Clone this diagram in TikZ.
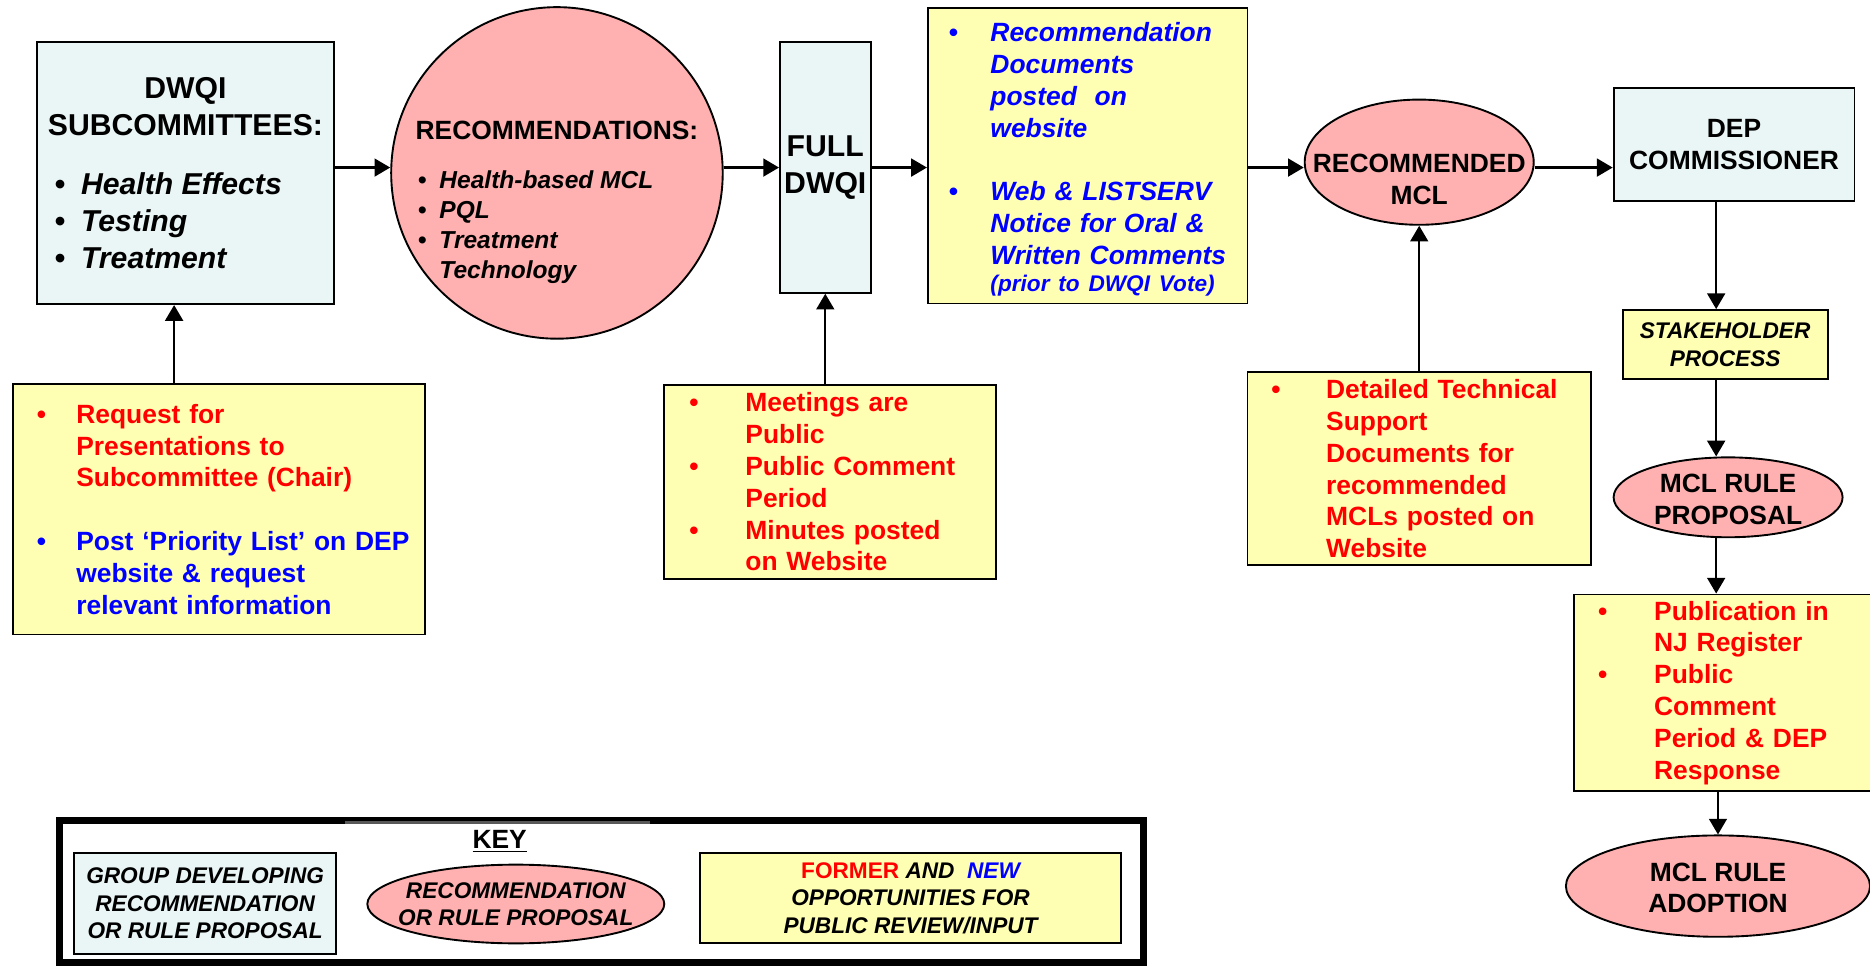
\documentclass[tikz,border=0pt]{standalone}
\usepackage{fontspec}
\setmainfont{Liberation Sans}
\usetikzlibrary{shapes.geometric, arrows, arrows.meta}
\definecolor{grpblue}{RGB}{234,245,246}
\definecolor{recpink}{RGB}{255,176,176}
\definecolor{inyellow}{RGB}{255,255,180}
\newcommand{\fsA}{\fontsize{14.4pt}{17.6pt}\selectfont}
\newcommand{\fsB}{\fontsize{12.6pt}{15.2pt}\selectfont}
\newcommand{\fsC}{\fontsize{11.7pt}{14.2pt}\selectfont}
\newcommand{\fsD}{\fontsize{10.8pt}{13.1pt}\selectfont}
\newcommand{\bul}[1]{\makebox[#1][l]{\textbullet}}
\newcommand{\ind}[1]{\hspace*{#1}}
\newcommand{\inell}[3]{\raisebox{#1}[0pt][0pt]{\makebox[0pt]{\begin{tabular}{@{}#2@{}}#3\end{tabular}}}}
\tikzstyle{groupbox} = [rectangle, draw=black, line width=0.9pt, fill=grpblue, inner sep=2pt]
\tikzstyle{recell} = [ellipse, draw=black, line width=0.9pt, fill=recpink, inner sep=0pt]
\tikzstyle{inputbox} = [rectangle, draw=black, line width=0.9pt, fill=inyellow, inner sep=2pt, align=left]
\tikzstyle{arrow} = [-{Triangle[length=7.5pt, width=8.5pt]}, line width=1.1pt]

\begin{document}
\begin{tikzpicture}[node distance=1cm]
\useasboundingbox (0,0) rectangle (31.36,-16.26);
% top row
\node[groupbox, minimum width=4.98cm, minimum height=4.40cm, align=left, font=\bfseries\fsA] (sub) at (3.11,-2.90)
  {\makebox[4.38cm]{DWQI}\\ \makebox[4.38cm]{SUBCOMMITTEES:}\\[0.38cm]
   \bul{0.44cm}\textit{Health Effects}\\ \bul{0.44cm}\textit{Testing}\\ \bul{0.44cm}\textit{Treatment}};
\node[recell, minimum width=5.56cm, minimum height=5.56cm, font=\bfseries\fsC, right of=sub, xshift=5.23cm] (rec)
  {\inell{-0.61cm}{l}{{\fsB RECOMMENDATIONS:}\\[0.32cm]
   \ind{0.04cm}\bul{0.36cm}\textit{Health-based MCL}\\ \ind{0.04cm}\bul{0.36cm}\textit{PQL}\\
   \ind{0.04cm}\bul{0.36cm}\textit{Treatment}\\ \ind{0.40cm}\textit{Technology}}};
\node[groupbox, minimum width=1.52cm, minimum height=4.20cm, inner xsep=1pt, align=center, font=\bfseries\fsA, right of=rec, xshift=3.50cm, yshift=0.09cm] (full) {FULL\\DWQI};
\node[inputbox, text width=4.66cm, minimum width=5.36cm, minimum height=4.96cm, text=blue, font=\bfseries\itshape\fsB, right of=full, xshift=3.40cm, yshift=0.20cm] (web)
  {\rule{0pt}{12.6pt}\bul{0.70cm}Recommendation\\ \ind{0.70cm}Documents\\ \ind{0.70cm}posted~~on\\ \ind{0.70cm}website\\[0.53cm]
   \bul{0.70cm}Web \& LISTSERV\\ \ind{0.70cm}Notice for Oral \&\\ \ind{0.70cm}\mbox{Written Comments}\\[-0.08cm] \ind{0.70cm}{\fsD (prior to DWQI Vote)}};
\node[recell, minimum width=3.84cm, minimum height=2.10cm, font=\bfseries\fsB, right of=web, xshift=4.56cm, yshift=-0.11cm] (mcl)
  {\inell{-0.44cm}{c}{RECOMMENDED\\MCL}};
\node[groupbox, minimum width=4.04cm, minimum height=1.90cm, align=center, font=\bfseries\fsB, right of=mcl, xshift=4.28cm, yshift=0.30cm] (dep) {DEP\\COMMISSIONER};
% right column
\node[inputbox, align=center, minimum width=3.44cm, minimum height=1.16cm, font=\bfseries\itshape\fsD, below of=dep, xshift=-0.15cm, yshift=-2.36cm] (stake) {STAKEHOLDER\\PROCESS};
\node[recell, minimum width=3.84cm, minimum height=1.34cm, font=\bfseries\fsB, below of=stake, xshift=0.05cm, yshift=-1.56cm] (prop)
  {\inell{-0.18cm}{c}{MCL RULE\\PROPOSAL}};
\node[inputbox, text width=4.40cm, minimum width=5.20cm, minimum height=3.30cm, text=red, font=\bfseries\fsB, below of=prop, xshift=0.02cm, yshift=-2.28cm] (pub)
  {\bul{0.94cm}Publication in\\ \ind{0.94cm}NJ Register\\ \bul{0.94cm}Public\\ \ind{0.94cm}Comment\\ \ind{0.94cm}Period \& DEP\\ \ind{0.94cm}Response};
\node[recell, minimum width=5.10cm, minimum height=1.70cm, font=\bfseries\fsB, below of=pub, xshift=-0.19cm, yshift=-2.24cm] (adopt)
  {\inell{-0.18cm}{c}{MCL RULE\\ADOPTION}};
% input boxes
\node[inputbox, text width=6.10cm, minimum width=6.90cm, minimum height=4.20cm, text=red, font=\bfseries\fsB, below of=sub, xshift=0.56cm, yshift=-4.64cm] (req)
  {\bul{0.66cm}Request for\\ \ind{0.66cm}Presentations to\\ \ind{0.66cm}Subcommittee (Chair)\\[0.53cm]
   \color{blue}\bul{0.66cm}\mbox{Post ‘Priority List’ on DEP}\\ \ind{0.66cm}website \& request\\ \ind{0.66cm}relevant information};
\node[inputbox, text width=4.72cm, minimum width=5.56cm, minimum height=3.26cm, text=red, font=\bfseries\fsB, below of=full, xshift=0.08cm, yshift=-4.27cm] (meet)
  {\bul{0.94cm}Meetings are\\ \ind{0.94cm}Public\\ \bul{0.94cm}Public Comment\\ \ind{0.94cm}Period\\ \bul{0.94cm}Minutes posted\\ \ind{0.94cm}on Website};
\node[inputbox, text width=4.96cm, minimum width=5.76cm, minimum height=3.24cm, text=red, font=\bfseries\fsB, below of=mcl, yshift=-4.14cm] (tech)
  {\bul{0.92cm}Detailed Technical\\ \ind{0.92cm}Support\\ \ind{0.92cm}Documents for\\ \ind{0.92cm}recommended\\ \ind{0.92cm}MCLs posted on\\ \ind{0.92cm}Website};
% key
\node[draw=black, line width=0.12cm, minimum width=18.18cm, minimum height=2.38cm, below of=req, xshift=6.42cm, yshift=-5.41cm] (keyframe) {};
\draw[line width=0.06cm, black!65] ([xshift=4.84cm, yshift=-0.09cm]keyframe.north west) -- ++(5.12cm,0);
\node[font=\bfseries\fsB, above of=keyframe, xshift=-1.71cm, yshift=-0.17cm] (keytitle) {\underline{KEY}};
\node[groupbox, minimum width=4.40cm, minimum height=1.70cm, align=center, font=\bfseries\itshape\fsD, left of=keyframe, xshift=-5.65cm, yshift=-0.20cm] (grp)
  {GROUP DEVELOPING\\RECOMMENDATION\\OR RULE PROPOSAL};
\node[recell, minimum width=4.98cm, minimum height=1.32cm, font=\bfseries\itshape\fsD, left of=keyframe, xshift=-0.44cm, yshift=-0.21cm] (keyell)
  {\inell{-0.14cm}{c}{RECOMMENDATION\\OR RULE PROPOSAL}};
\node[inputbox, align=center, minimum width=7.06cm, minimum height=1.52cm, font=\bfseries\itshape\fsD, right of=keyframe, xshift=4.18cm, yshift=-0.11cm] (keybox)
  {{\upshape\color{red}FORMER} AND~ {\color{blue}NEW}\\OPPORTUNITIES FOR\\PUBLIC REVIEW/INPUT};
% connectors
\coordinate (rcol) at ([xshift=-0.15cm]stake.center);
\coordinate (lcol) at ([xshift=-0.19cm]sub.center);
\draw [arrow] (sub.east |- full) -- (rec.west |- full);
\draw [arrow] (rec.east |- full) -- (full.west);
\draw [arrow] (full.east) -- (web.west |- full);
\draw [arrow] (web.east |- full) -- (mcl.west |- full);
\draw [arrow] (mcl.east |- full) -- (dep.west |- full);
\draw [arrow] (dep.south -| rcol) -- (stake.north -| rcol);
\draw [arrow] (stake.south -| rcol) -- (prop.north -| rcol);
\draw [arrow] (prop.south -| rcol) -- (pub.north -| rcol);
\draw [arrow] (pub.south -| adopt) -- (adopt.north);
\draw [arrow] (req.north -| lcol) -- (sub.south -| lcol);
\draw [arrow] (meet.north -| full) -- (full.south);
\draw [arrow] (tech.north -| mcl) -- (mcl.south);
\end{tikzpicture}
\end{document}
